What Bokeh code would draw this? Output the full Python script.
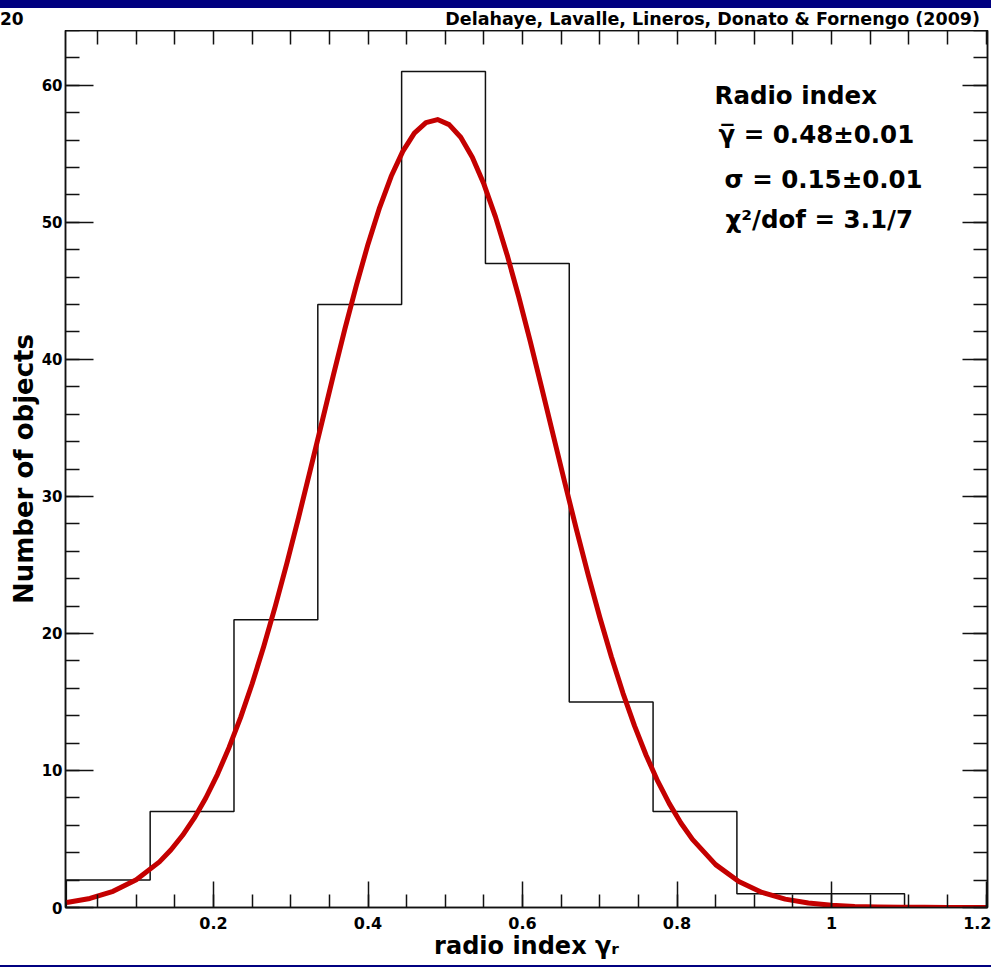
import numpy as np
from bokeh.plotting import figure
from bokeh.models import (Range1d, LinearAxis, SingleIntervalTicker,
                          CustomJSTickFormatter, Label, Div)
from bokeh.layouts import column
from bokeh.embed import file_html
from bokeh.resources import INLINE

# ---------------- data ----------------
bin_edges = [0.0095, 0.118, 0.2265, 0.335, 0.4435, 0.552, 0.6605, 0.769, 0.8775, 0.986, 1.0945]
bin_counts = [2, 7, 21, 44, 61, 47, 15, 7, 1, 1]

fit_x = [0.010, 0.040, 0.070, 0.100, 0.130, 0.145, 0.160, 0.175, 0.190, 0.205,
         0.220, 0.235, 0.250, 0.265, 0.280, 0.295, 0.310, 0.325, 0.340, 0.355,
         0.370, 0.385, 0.400, 0.415, 0.430, 0.445, 0.460, 0.475, 0.490, 0.505,
         0.520, 0.535, 0.550, 0.565, 0.580, 0.595, 0.610, 0.625, 0.640, 0.655,
         0.670, 0.685, 0.700, 0.715, 0.730, 0.745, 0.760, 0.775, 0.790, 0.805,
         0.820, 0.850, 0.880, 0.910, 0.940, 0.970, 1.000, 1.030, 1.060, 1.090,
         1.120, 1.150, 1.200]
fit_y = [0.36, 0.66, 1.18, 2.03, 3.33, 4.21, 5.27, 6.52, 7.99, 9.70,
         11.66, 13.86, 16.33, 19.05, 21.99, 25.13, 28.44, 31.86, 35.33, 38.81,
         42.20, 45.42, 48.41, 51.08, 53.36, 55.18, 56.51, 57.28, 57.50, 57.13,
         56.21, 54.75, 52.79, 50.40, 47.64, 44.59, 41.31, 37.89, 34.41, 30.94,
         27.54, 24.27, 21.18, 18.30, 15.65, 13.25, 11.11, 9.22, 7.58, 6.17,
         4.97, 3.13, 1.89, 1.10, 0.61, 0.33, 0.17, 0.08, 0.04, 0.02,
         0.01, 0.0, 0.0]

banner_text = "Delahaye, Lavalle, Lineros, Donato &amp; Fornengo (2009)"
neighbour_text = "20"
stats_title = "Radio index"
stats_lines = ["\u03b3\u0305 = 0.48\u00b10.01", "\u03c3 = 0.15\u00b10.01", "\u03c7\u00b2/dof = 3.1/7"]
x_label = "radio index \u03b3\u1d63"
y_label = "Number of objects"

# ---------------- figure ----------------
FONT = "DejaVu Sans"
p = figure(width=991, height=935,
           x_range=Range1d(0.0084, 1.2019), y_range=Range1d(0, 64),
           output_backend="svg", toolbar_location=None,
           min_border_left=65, min_border_right=4,
           min_border_top=0, min_border_bottom=58)
p.xgrid.visible = False
p.ygrid.visible = False
p.background_fill_color = "white"
p.border_fill_color = "white"
p.outline_line_color = "#111111"
p.outline_line_width = 1.5

# histogram step outline
hx, hy = [bin_edges[0]], [0]
for i, c in enumerate(bin_counts):
    hx += [bin_edges[i], bin_edges[i + 1]]
    hy += [c, c]
hx.append(bin_edges[-1])
hy.append(0)
p.line(hx, hy, line_color="#111111", line_width=1.5)

# gaussian fit curve
p.line(fit_x, fit_y, line_color="#c40000", line_width=5, line_join="round")

# axes
AX = "#111111"
xa = p.xaxis[0]
xa.ticker = SingleIntervalTicker(interval=0.2, num_minor_ticks=4)
xa.formatter = CustomJSTickFormatter(code="return String(Math.round(tick*10)/10);")
xa.major_tick_in = 26
xa.major_tick_out = 0
xa.minor_tick_in = 13
xa.minor_tick_out = 0
xa.major_label_standoff = 9
xa.major_label_text_font = FONT
xa.major_label_text_font_style = "bold"
xa.major_label_text_font_size = "16px"
xa.major_label_text_color = "black"
xa.axis_label = x_label
xa.axis_label_standoff = 0
xa.axis_label_text_font = FONT
xa.axis_label_text_font_style = "bold"
xa.axis_label_text_font_size = "24px"
xa.axis_label_text_color = "black"

ya = p.yaxis[0]
ya.ticker = SingleIntervalTicker(interval=10, num_minor_ticks=5)
ya.major_tick_in = 28
ya.major_tick_out = 0
ya.minor_tick_in = 14
ya.minor_tick_out = 0
ya.major_label_standoff = 3
ya.major_label_text_font = FONT
ya.major_label_text_font_style = "bold"
ya.major_label_text_font_size = "15px"
ya.major_label_text_color = "black"
ya.axis_label = y_label
ya.axis_label_standoff = 0
ya.axis_label_text_font = FONT
ya.axis_label_text_font_style = "bold"
ya.axis_label_text_font_size = "26px"
ya.axis_label_text_color = "black"

ra = LinearAxis(ticker=SingleIntervalTicker(interval=10, num_minor_ticks=5),
                formatter=CustomJSTickFormatter(code="return '';"),
                major_tick_in=25, major_tick_out=0, minor_tick_in=14, minor_tick_out=0,
                major_label_standoff=0)
p.add_layout(ra, "right")
ta = LinearAxis(ticker=SingleIntervalTicker(interval=0.05, num_minor_ticks=0),
                formatter=CustomJSTickFormatter(code="return '';"),
                major_tick_in=14, major_tick_out=0, minor_tick_in=0, minor_tick_out=0,
                major_label_standoff=0)
p.add_layout(ta, "above")

for ax in [xa, ya, ra, ta]:
    ax.axis_line_color = AX
    ax.axis_line_width = 1.5
    ax.major_tick_line_color = AX
    ax.major_tick_line_width = 1.5
    ax.minor_tick_line_color = AX
    ax.minor_tick_line_width = 1.5


# pixel -> data helpers for text placement only (page pixels)
def dx(px):
    return (px - 58.51) / 772.5


def dy(py):
    return (907 - py) / 13.703


def add_text(px, py, text, size):
    p.add_layout(Label(x=dx(px), y=dy(py), text=text, text_font=FONT,
                       text_font_style="bold", text_font_size=size,
                       text_align="left", text_baseline="alphabetic",
                       text_color="black"))


add_text(714, 95, stats_title, "24.5px")
add_text(718, 134, stats_lines[0], "24.5px")
add_text(724, 179, stats_lines[1], "24.5px")
add_text(725, 219, stats_lines[2], "24.5px")

header_html = (
    '<div style="position:relative;width:991px;height:30px;background:white;overflow:hidden;">'
    '<div style="position:absolute;left:0;top:0;width:991px;height:8px;background:#000080;"></div>'
    '<span style="position:absolute;left:0px;top:11px;line-height:17px;'
    'font-family:\'DejaVu Sans\';font-weight:bold;font-size:17px;color:black;white-space:nowrap;">'
    + neighbour_text + '</span>'
    '<span style="position:absolute;right:11px;top:11px;line-height:17px;'
    'font-family:\'DejaVu Sans\';font-weight:bold;font-size:17.5px;color:black;white-space:nowrap;">'
    + banner_text + '</span>'
    '</div>'
)
header = Div(text=header_html, width=991, height=30, margin=0)
bottom_band = Div(text="", width=991, height=2, margin=0,
                  styles={"background-color": "#000080"})
layout = column(header, p, bottom_band, spacing=0)

open("out.html", "w").write(file_html(layout, INLINE))
